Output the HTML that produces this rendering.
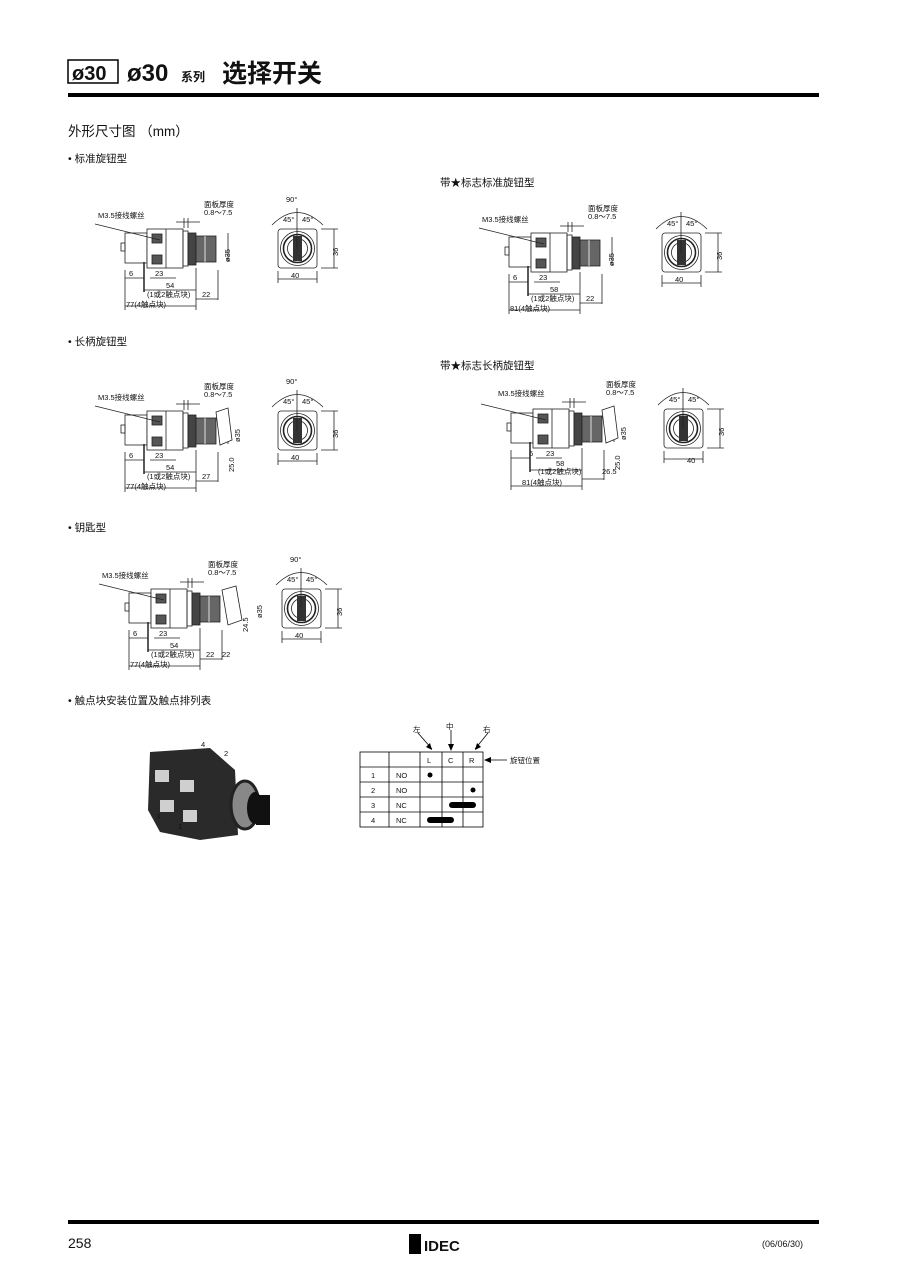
<!DOCTYPE html>
<html><head><meta charset="utf-8"><style>
body{margin:0;background:#fff;}
svg{display:block}
text{font-family:"Liberation Sans","Noto Sans CJK SC",sans-serif;fill:#111}
.s{font-size:7.5px}
.h{font-size:10.5px}
</style></head><body>
<svg width="900" height="1280" viewBox="0 0 900 1280" xmlns="http://www.w3.org/2000/svg">
<defs>
<g id="std" fill="none" stroke="#222" stroke-width="0.8">
  <!-- side view -->
  <rect x="125" y="233" width="22" height="30"/>
  <rect x="121" y="243" width="4" height="8"/>
  <rect x="147" y="229" width="36" height="39" fill="#fff"/>
  <rect x="152" y="234" width="10" height="9" fill="#555"/>
  <rect x="152" y="255" width="10" height="9" fill="#555"/>
  <line x1="166" y1="229" x2="166" y2="268"/>
  <rect x="183" y="231" width="5" height="35"/>
  <rect x="188" y="233" width="8" height="32" fill="#444"/>
  <rect x="196" y="236" width="20" height="26" fill="#666"/>
  <line x1="205" y1="236" x2="205" y2="262" stroke="#fff"/>
  <!-- dims -->
  <line x1="228" y1="233" x2="228" y2="262"/>
  <line x1="125" y1="270" x2="125" y2="310"/>
  <line x1="144" y1="262" x2="144" y2="292" stroke-width="1.5"/>
  <line x1="196" y1="268" x2="196" y2="310"/>
  <line x1="218" y1="270" x2="218" y2="300"/>
  <line x1="125" y1="278" x2="144" y2="278"/>
  <line x1="150" y1="278" x2="176" y2="278"/>
  <line x1="144" y1="290" x2="196" y2="290"/>
  <line x1="196" y1="299" x2="218" y2="299"/>
  <line x1="125" y1="306" x2="196" y2="306"/>
  <line x1="95" y1="224" x2="160" y2="240"/>
  <line x1="176" y1="222" x2="200" y2="222"/>
  <line x1="184" y1="218" x2="184" y2="228"/><line x1="188" y1="218" x2="188" y2="228"/>
  <!-- front view -->
  <rect x="278" y="229" width="39" height="39" rx="3"/>
  <circle cx="297.5" cy="248.5" r="17"/>
  <circle cx="297.5" cy="248.5" r="14" stroke-width="1.6"/>
  <circle cx="297.5" cy="248.5" r="10"/>
  <rect x="293" y="236" width="9" height="25" fill="#333" stroke="none"/>
  <path d="M272 225 Q297 200 323 225"/>
  <line x1="297" y1="208" x2="297" y2="249"/>
  <line x1="321" y1="229" x2="338" y2="229"/><line x1="321" y1="268" x2="338" y2="268"/>
  <line x1="334" y1="229" x2="334" y2="268"/>
  <line x1="278" y1="271" x2="278" y2="283"/><line x1="317" y1="271" x2="317" y2="283"/>
  <line x1="278" y1="279" x2="317" y2="279"/>
</g>
</defs>

<!-- header -->
<rect x="68" y="60" width="50" height="23" fill="none" stroke="#000" stroke-width="1.5"/>
<text x="72" y="80" style="font-size:20px;font-weight:bold">ø30</text>
<text x="127" y="81" style="font-size:24px;font-weight:bold">ø30</text>
<text x="181" y="81" style="font-size:12px;font-weight:bold">系列</text>
<text x="222" y="82" style="font-size:25px;font-weight:bold">选择开关</text>
<rect x="68" y="93" width="751" height="4" fill="#000"/>

<text x="68" y="136" style="font-size:13.5px">外形尺寸图 （mm）</text>
<text x="68" y="162" class="h">• 标准旋钮型</text>
<text x="440" y="186" class="h">带★标志标准旋钮型</text>
<text x="68" y="345" class="h">• 长柄旋钮型</text>
<text x="440" y="369" class="h">带★标志长柄旋钮型</text>
<text x="68" y="531" class="h">• 钥匙型</text>
<text x="68" y="704" class="h">• 触点块安装位置及触点排列表</text>

<!-- drawings -->
<use href="#std"/>
<use href="#std" transform="translate(384,4)"/>
<use href="#std" transform="translate(0,182)"/>
<use href="#std" transform="translate(386,180)"/>
<use href="#std" transform="translate(4,360)"/>
<!-- long handles -->
<path d="M216 412 L228 408 L232 440 L220 445 Z" fill="#fff" stroke="#222" stroke-width="0.8"/>
<path d="M602 410 L614 406 L618 438 L606 443 Z" fill="#fff" stroke="#222" stroke-width="0.8"/>
<path d="M222 590 L236 586 L242 620 L228 625 Z" fill="#fff" stroke="#222" stroke-width="0.8"/>

<g id="labels">
<text x="98" y="218" class="s">M3.5接线螺丝</text><text x="204" y="207" class="s">面板厚度</text><text x="204" y="215" class="s">0.8～7.5</text>
<text x="286" y="202" class="s">90°</text><text x="283" y="222" class="s">45°</text><text x="302" y="222" class="s">45°</text>
<text x="230" y="262" class="s" transform="rotate(-90 230 262)">ø35</text><text x="338" y="256" class="s" transform="rotate(-90 338 256)">36</text>
<text x="291" y="278" class="s">40</text>
<text x="129" y="276" class="s">6</text><text x="155" y="276" class="s">23</text><text x="166" y="288" class="s">54</text>
<text x="147" y="297" class="s">(1或2触点块)</text><text x="202" y="297" class="s">22</text><text x="126" y="307" class="s">77(4触点块)</text>
</g>
<g transform="translate(384,4)">
<text x="98" y="218" class="s">M3.5接线螺丝</text><text x="204" y="207" class="s">面板厚度</text><text x="204" y="215" class="s">0.8～7.5</text>
<text x="283" y="222" class="s">45°</text><text x="302" y="222" class="s">45°</text>
<text x="230" y="262" class="s" transform="rotate(-90 230 262)">ø35</text><text x="338" y="256" class="s" transform="rotate(-90 338 256)">36</text>
<text x="291" y="278" class="s">40</text>
<text x="129" y="276" class="s">6</text><text x="155" y="276" class="s">23</text><text x="166" y="288" class="s">58</text>
<text x="147" y="297" class="s">(1或2触点块)</text><text x="202" y="297" class="s">22</text><text x="126" y="307" class="s">81(4触点块)</text>
</g>
<g transform="translate(0,182)">
<text x="98" y="218" class="s">M3.5接线螺丝</text><text x="204" y="207" class="s">面板厚度</text><text x="204" y="215" class="s">0.8～7.5</text>
<text x="286" y="202" class="s">90°</text><text x="283" y="222" class="s">45°</text><text x="302" y="222" class="s">45°</text>
<text x="240" y="260" class="s" transform="rotate(-90 240 260)">ø35</text><text x="338" y="256" class="s" transform="rotate(-90 338 256)">36</text>
<text x="234" y="290" class="s" transform="rotate(-90 234 290)">25.0</text>
<text x="291" y="278" class="s">40</text>
<text x="129" y="276" class="s">6</text><text x="155" y="276" class="s">23</text><text x="166" y="288" class="s">54</text>
<text x="147" y="297" class="s">(1或2触点块)</text><text x="202" y="297" class="s">27</text><text x="126" y="307" class="s">77(4触点块)</text>
</g>
<g transform="translate(386,180)">
<text x="112" y="216" class="s">M3.5接线螺丝</text><text x="220" y="207" class="s">面板厚度</text><text x="220" y="215" class="s">0.8～7.5</text>
<text x="283" y="222" class="s">45°</text><text x="302" y="222" class="s">45°</text>
<text x="240" y="260" class="s" transform="rotate(-90 240 260)">ø35</text><text x="338" y="256" class="s" transform="rotate(-90 338 256)">36</text>
<text x="234" y="290" class="s" transform="rotate(-90 234 290)">25.0</text>
<text x="301" y="283" class="s">40</text>
<text x="143" y="276" class="s">6</text><text x="160" y="276" class="s">23</text><text x="170" y="286" class="s">58</text>
<text x="152" y="294" class="s">(1或2触点块)</text><text x="216" y="294" class="s">26.5</text><text x="136" y="305" class="s">81(4触点块)</text>
</g>
<g transform="translate(4,360)">
<text x="98" y="218" class="s">M3.5接线螺丝</text><text x="204" y="207" class="s">面板厚度</text><text x="204" y="215" class="s">0.8～7.5</text>
<text x="286" y="202" class="s">90°</text><text x="283" y="222" class="s">45°</text><text x="302" y="222" class="s">45°</text>
<text x="258" y="258" class="s" transform="rotate(-90 258 258)">ø35</text><text x="338" y="256" class="s" transform="rotate(-90 338 256)">36</text>
<text x="244" y="272" class="s" transform="rotate(-90 244 272)">24.5</text>
<text x="291" y="278" class="s">40</text>
<text x="129" y="276" class="s">6</text><text x="155" y="276" class="s">23</text><text x="166" y="288" class="s">54</text>
<text x="147" y="297" class="s">(1或2触点块)</text><text x="202" y="297" class="s">22</text><text x="218" y="297" class="s">22</text><text x="126" y="307" class="s">77(4触点块)</text>
</g>

<!-- photo -->
<g>
<path d="M150 752 L210 748 L235 770 L238 835 L200 840 L160 832 L148 810 Z" fill="#2a2a2a"/>
<rect x="155" y="770" width="14" height="12" fill="#cfcfcf"/>
<rect x="180" y="780" width="14" height="12" fill="#cfcfcf"/>
<rect x="160" y="800" width="14" height="12" fill="#cfcfcf"/>
<rect x="183" y="810" width="14" height="12" fill="#cfcfcf"/>
<ellipse cx="245" cy="805" rx="14" ry="24" fill="#888" stroke="#222" stroke-width="3"/>
<ellipse cx="255" cy="808" rx="8" ry="16" fill="#111"/>
<rect x="256" y="795" width="14" height="30" fill="#111"/>
<text x="201" y="747" class="s">4</text><text x="224" y="756" class="s">2</text>
<text x="156" y="819" class="s">3</text><text x="178" y="829" class="s">1</text>
</g>

<!-- table -->
<g stroke="#000" stroke-width="0.8" fill="none">
<rect x="360" y="752" width="123" height="75"/>
<line x1="360" y1="767" x2="483" y2="767"/><line x1="360" y1="782" x2="483" y2="782"/>
<line x1="360" y1="797" x2="483" y2="797"/><line x1="360" y1="812" x2="483" y2="812"/>
<line x1="389" y1="752" x2="389" y2="827"/><line x1="420" y1="752" x2="420" y2="827"/>
<line x1="442" y1="752" x2="442" y2="827"/><line x1="463" y1="752" x2="463" y2="827"/>
<line x1="418" y1="733" x2="432" y2="749"/><line x1="451" y1="730" x2="451" y2="749"/><line x1="488" y1="733" x2="475" y2="749"/>
<line x1="488" y1="760" x2="507" y2="760"/>
</g>
<path d="M432 750 L426 747 L430 743 Z M451 751 L448 744 L454 744 Z M475 750 L477 743 L481 747 Z M484 760 L491 757 L491 763 Z" fill="#000"/>
<text x="413" y="732" class="s">左</text><text x="446" y="729" class="s">中</text><text x="483" y="732" class="s">右</text>
<text x="510" y="763" class="s">旋钮位置</text>
<text x="427" y="763" class="s">L</text><text x="448" y="763" class="s">C</text><text x="469" y="763" class="s">R</text>
<text x="371" y="778" class="s">1</text><text x="396" y="778" class="s">NO</text>
<text x="371" y="793" class="s">2</text><text x="396" y="793" class="s">NO</text>
<text x="371" y="808" class="s">3</text><text x="396" y="808" class="s">NC</text>
<text x="371" y="823" class="s">4</text><text x="396" y="823" class="s">NC</text>
<circle cx="430" cy="775" r="2.5" fill="#000"/><circle cx="473" cy="790" r="2.5" fill="#000"/>
<rect x="449" y="802" width="27" height="6" rx="3" fill="#000"/>
<rect x="427" y="817" width="27" height="6" rx="3" fill="#000"/>

<!-- footer -->
<rect x="68" y="1220" width="751" height="4" fill="#000"/>
<text x="68" y="1248" style="font-size:14px">258</text>
<rect x="409" y="1234" width="12" height="20" fill="#000"/>
<text x="424" y="1251" style="font-size:15px;font-weight:bold">IDEC</text>
<text x="762" y="1247" style="font-size:9px">(06/06/30)</text>
</svg>
</body></html>
